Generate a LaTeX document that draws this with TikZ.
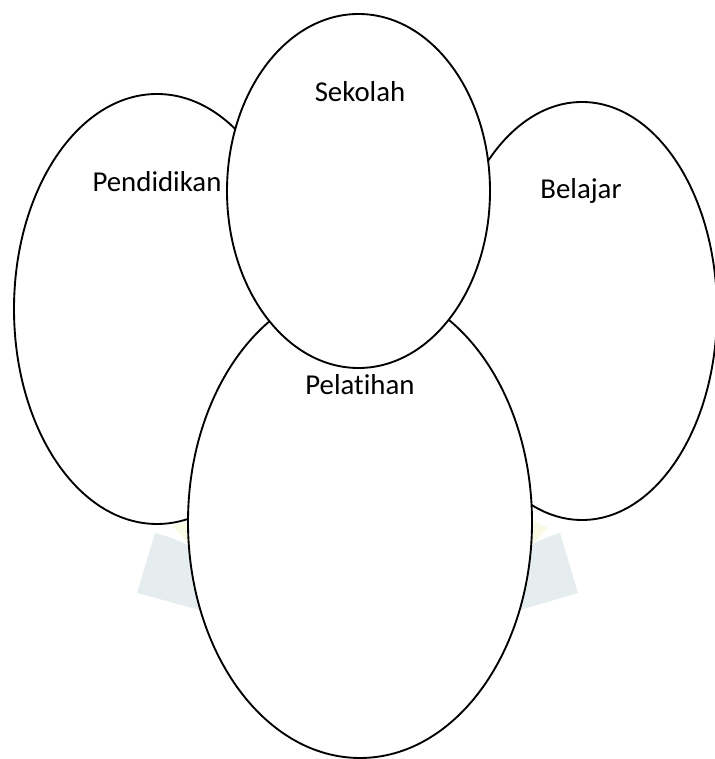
\documentclass[tikz,border=0pt]{standalone}
\usepackage{fontspec}
\setmainfont{Carlito}[Ligatures=NoCommon]
\usepackage{xcolor}
\usepackage{tikz}
\usetikzlibrary{shapes.geometric, positioning}
\definecolor{markblue}{RGB}{229, 237, 239}
\definecolor{markyellow}{RGB}{248, 250, 230}

\tikzset{
    bubble/.style={ellipse, draw=black, fill=white, line width=1.6pt, inner sep=0pt},
    bubbletext/.style={font=\fontsize{24.6}{30}\selectfont, anchor=base}
}

\begin{document}
\begin{tikzpicture}
    \useasboundingbox (0,0) rectangle (21.45,22.77);

    % Faint watermark pieces
    \fill[markblue] (4.65,6.78) to[bend left=8] (6.0,6.21) -- (6.0,4.47) -- (4.11,4.98) -- cycle;
    \fill[markblue] (16.8,6.78) to[bend right=8] (15.6,6.21) -- (15.6,4.47) -- (17.34,4.98) -- cycle;
    \fill[markyellow] (5.16,6.99) -- (5.7,7.17) -- (5.7,6.42) -- cycle;
    \fill[markyellow] (16.44,6.93) -- (15.96,7.17) -- (15.96,6.42) -- cycle;

    % Ellipses
    \node[bubble, minimum width=8.58cm, minimum height=12.9cm] (pendidikan) at (4.71,13.50) {};
    \node[bubble, minimum width=8.1cm, minimum height=12.54cm] (belajar) at (17.46,13.44) {};
    \node[bubble, minimum width=10.32cm, minimum height=14.16cm] (pelatihan) at (10.80,7.11) {};
    \node[bubble, minimum width=7.89cm, minimum height=10.62cm] (sekolah) at (10.755,17.04) {};

    % Labels
    \node[bubbletext] (tsekolah) at (10.8,19.71) {Sekolah};
    \node[bubbletext] (tpendidikan) at (4.71,17.01) {Pendidikan};
    \node[bubbletext] (tbelajar) at (17.43,16.80) {Belajar};
    \node[bubbletext] (tpelatihan) at (10.8,10.92) {Pelatihan};
\end{tikzpicture}
\end{document}
